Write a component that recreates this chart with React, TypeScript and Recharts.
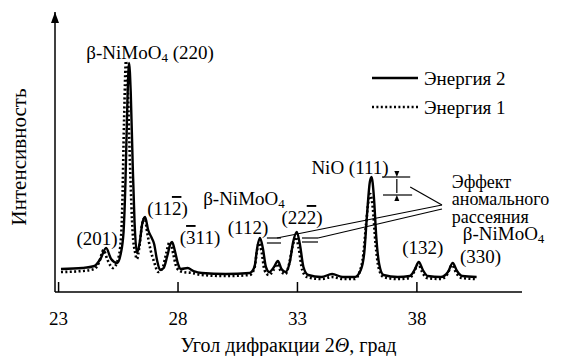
import React from 'react';
import { LineChart, Line, XAxis, YAxis, ReferenceLine, ReferenceDot } from 'recharts';

const FONT = 'Liberation Serif, FreeSerif, serif';

// Энергия 2 (solid)
const angles2 = [
  23.1, 24.0, 24.5, 24.75, 24.99, 25.2, 25.45, 25.6, 25.72, 25.8, 25.88, 25.95, 26.02, 26.1, 26.18, 26.28,
  26.4, 26.5, 26.62, 26.75, 26.9, 27.0, 27.12, 27.25, 27.4, 27.55, 27.68, 27.75, 27.88, 28.0, 28.12, 28.4,
  28.65, 29.0, 30.0, 31.0, 31.2, 31.32, 31.43, 31.55, 31.68, 31.82, 32.02, 32.18, 32.33, 32.5, 32.68, 32.82,
  32.97, 33.1, 33.25, 33.45, 34.0, 34.45, 34.9, 35.4, 35.65, 35.8, 35.92, 36.03, 36.1, 36.2, 36.3, 36.42,
  36.6, 37.2, 37.7, 37.9, 38.08, 38.25, 38.45, 39.0, 39.3, 39.5, 39.68, 39.9, 40.5,
];
const energy2 = [
  23, 24, 26, 33, 44, 33, 29, 38, 60, 110, 190, 229, 200, 130, 70, 39,
  50, 68, 75, 62, 54, 48, 32, 22, 24, 36, 48, 50, 40, 28, 23, 24,
  21, 19, 18, 19, 25, 45, 54, 44, 25, 20, 25, 31, 23, 20, 30, 50,
  60, 48, 25, 17, 15, 18, 15, 15, 22, 40, 80, 110, 115, 95, 55, 28,
  17, 15, 16, 22, 30, 22, 16, 15, 20, 29, 21, 16, 15,
];

// Энергия 1 (dotted)
const angles1 = [
  23.1, 24.0, 24.5, 24.7, 24.88, 25.05, 25.28, 25.45, 25.58, 25.66, 25.74, 25.82, 25.9, 26.0, 26.1, 26.2,
  26.28, 26.38, 26.5, 26.6, 26.72, 26.85, 27.0, 27.17, 27.35, 27.5, 27.62, 27.68, 27.8, 27.95, 28.2, 28.6,
  29.0, 30.0, 31.0, 31.2, 31.3, 31.38, 31.5, 31.62, 31.8, 32.0, 32.15, 32.3, 32.5, 32.65, 32.8, 32.93,
  33.05, 33.2, 33.4, 34.0, 34.45, 34.9, 35.4, 35.6, 35.76, 35.88, 35.98, 36.05, 36.15, 36.27, 36.4, 36.6,
  37.2, 37.7, 37.88, 38.05, 38.22, 38.42, 39.0, 39.28, 39.47, 39.65, 39.88, 40.5,
];
const energy1 = [
  20, 21, 23, 30, 42, 32, 24, 30, 45, 80, 170, 231, 200, 120, 60, 40,
  33, 45, 68, 74, 58, 42, 30, 20, 24, 38, 49, 50, 38, 24, 20, 19,
  17, 16, 17, 24, 40, 49, 40, 22, 17, 22, 28, 21, 18, 28, 46, 55,
  44, 22, 15, 13, 15, 13, 13, 20, 38, 70, 92, 98, 85, 48, 24, 15,
  13, 14, 20, 28, 20, 14, 13, 18, 27, 19, 14, 13,
];

const xTicks = [23, 28, 33, 38];
const xDomain = [22.85, 42.4];
const yDomain = [0, 280];

const data2 = angles2.map((x, i) => ({ x, y: energy2[i] }));
const data1 = angles1.map((x, i) => ({ x, y: energy1[i] }));

// annotation strokes: [x1, y1, x2, y2]
const marks = [
  [36.54, 115, 37.72, 115],
  [36.58, 97, 37.8, 97],
  [37.16, 99, 37.16, 113],
  [37.72, 105, 39.05, 87],
  [32.14, 54, 39.05, 87],
  [33.86, 54, 39.05, 83],
  [31.72, 54, 32.31, 54],
  [31.72, 49, 32.31, 49],
  [33.19, 54, 33.86, 54],
  [33.19, 50, 33.86, 50],
];

// parts: [text, kind] where kind '' normal, 's' subscript, 'o' overline
type Part = [string, string?];
const notes: { x: number; y: number; anchor: string; size?: number; parts: Part[] }[] = [
  { x: 26.83, y: 240, anchor: 'middle', parts: [['β-NiMoO'], ['4', 's'], [' (220)']] },
  { x: 24.61, y: 54, anchor: 'middle', parts: [['(201)']] },
  { x: 27.56, y: 84, anchor: 'middle', parts: [['(11'], ['2', 'o'], [')']] },
  { x: 28.92, y: 55, anchor: 'middle', parts: [['('], ['3', 'o'], ['11)']] },
  { x: 30.76, y: 94, anchor: 'middle', parts: [['β-NiMoO'], ['4', 's']] },
  { x: 30.93, y: 65, anchor: 'middle', parts: [['(112)']] },
  { x: 33.19, y: 75, anchor: 'middle', parts: [['(22'], ['2', 'o'], [')']] },
  { x: 35.2, y: 125, anchor: 'middle', parts: [['NiO (111)']] },
  { x: 39.46, y: 110, anchor: 'start', size: 18, parts: [['Эффект']] },
  { x: 39.46, y: 93, anchor: 'start', size: 18, parts: [['аномального']] },
  { x: 39.46, y: 75, anchor: 'start', size: 18, parts: [['рассеяния']] },
  { x: 39.92, y: 59, anchor: 'start', parts: [['β-NiMoO'], ['4', 's']] },
  { x: 38.25, y: 45, anchor: 'middle', parts: [['(132)']] },
  { x: 39.8, y: 36, anchor: 'start', parts: [['(330)']] },
];

const renderParts = (parts: Part[]) => {
  const out: React.ReactNode[] = [];
  let shifted = false;
  parts.forEach(([t, k], i) => {
    if (k === 's') {
      out.push(<tspan key={i} fontSize={13} dy={5}>{t}</tspan>);
      shifted = true;
    } else {
      const dy = shifted ? -5 : undefined;
      shifted = false;
      if (k === 'o') out.push(<tspan key={i} dy={dy} style={{ textDecoration: 'overline' }}>{t}</tspan>);
      else out.push(<tspan key={i} dy={dy}>{t}</tspan>);
    }
  });
  return out;
};

const XTick = (props: any) => {
  const { x, y, payload } = props;
  return (
    <g>
      <line x1={x} x2={x} y1={y} y2={y - 10} stroke="#000" strokeWidth={1.5} />
      <text x={x} y={y + 33} textAnchor="middle" fontFamily={FONT} fontSize={19} fill="#000">
        {payload.value}
      </text>
    </g>
  );
};

const XLabel = (props: any) => {
  const vb = props.viewBox;
  return (
    <text x={vb.x + vb.width / 2} y={vb.y + 60} textAnchor="middle" fontFamily={FONT} fontSize={20} fill="#000">
      <tspan>Угол дифракции 2</tspan>
      <tspan fontStyle="italic">Θ</tspan>
      <tspan>, град</tspan>
    </text>
  );
};

const YLabel = (props: any) => {
  const vb = props.viewBox;
  const cx = vb.x + 26;
  const cy = vb.y + vb.height / 2 + 5;
  return (
    <text x={cx} y={cy} transform={`rotate(-90 ${cx} ${cy})`} textAnchor="middle" fontFamily={FONT} fontSize={21} fill="#000">
      Интенсивность
    </text>
  );
};

const upHead = (p: any) => <path d={`M${p.cx},${p.cy} l-4,11 l8,0 z`} fill="#000" />;
const smallUp = (p: any) => <path d={`M${p.cx},${p.cy} l-2.5,6 l5,0 z`} fill="#000" />;
const smallDown = (p: any) => <path d={`M${p.cx},${p.cy} l-2.5,-6 l5,0 z`} fill="#000" />;

export default function App() {
  return (
    <div style={{ position: 'absolute', left: 0, top: 0, width: 565, height: 356, background: '#fff', fontFamily: FONT }}>
      <LineChart width={565} height={356} data={data2} margin={{ top: 12, right: 43, bottom: 24, left: 0 }}>
        <XAxis
          type="number"
          dataKey="x"
          domain={xDomain}
          ticks={xTicks}
          allowDataOverflow
          height={40}
          tickLine={false}
          tickSize={0}
          tickMargin={0}
          axisLine={{ stroke: '#000', strokeWidth: 1.5 }}
          tick={<XTick />}
          label={{ content: <XLabel /> }}
        />
        <YAxis
          type="number"
          domain={yDomain}
          allowDataOverflow
          width={55}
          tick={false}
          tickLine={false}
          axisLine={{ stroke: '#000', strokeWidth: 1.5 }}
          label={{ content: <YLabel /> }}
        />
        <ReferenceDot x={xDomain[0]} y={yDomain[1]} r={0} ifOverflow="visible" shape={upHead} />
        <Line
          data={data1}
          dataKey="y"
          type="monotone"
          stroke="#000"
          strokeWidth={2.6}
          strokeDasharray="2 2.4"
          dot={false}
          isAnimationActive={false}
          name="Энергия 1"
        />
        <Line
          data={data2}
          dataKey="y"
          type="monotone"
          stroke="#000"
          strokeWidth={2.4}
          strokeLinejoin="round"
          dot={false}
          isAnimationActive={false}
          name="Энергия 2"
        />
        {marks.map((m, i) => (
          <ReferenceLine
            key={'m' + i}
            segment={[{ x: m[0], y: m[1] }, { x: m[2], y: m[3] }]}
            stroke="#000"
            strokeWidth={1.2}
            ifOverflow="visible"
          />
        ))}
        <ReferenceDot x={37.16} y={115} r={0} ifOverflow="visible" shape={smallDown} />
        <ReferenceDot x={37.16} y={97} r={0} ifOverflow="visible" shape={smallUp} />
        {notes.map((n, i) => (
          <ReferenceDot
            key={'n' + i}
            x={n.x}
            y={n.y}
            r={0}
            ifOverflow="visible"
            shape={(p: any) => (
              <text
                x={p.cx}
                y={p.cy}
                textAnchor={n.anchor as any}
                dominantBaseline="central"
                fontFamily={FONT}
                fontSize={n.size || 19}
                fill="#000"
              >
                {renderParts(n.parts)}
              </text>
            )}
          />
        ))}
      </LineChart>
      <svg width={565} height={356} style={{ position: 'absolute', left: 0, top: 0, pointerEvents: 'none' }}>
        <line x1={372} x2={418} y1={78} y2={78} stroke="#000" strokeWidth={2.4} />
        <text x={424} y={78} dominantBaseline="central" fontFamily={FONT} fontSize={19} fill="#000">Энергия 2</text>
        <line x1={372} x2={418} y1={107} y2={107} stroke="#000" strokeWidth={2.6} strokeDasharray="2 2.4" />
        <text x={424} y={107} dominantBaseline="central" fontFamily={FONT} fontSize={19} fill="#000">Энергия 1</text>
      </svg>
    </div>
  );
}
